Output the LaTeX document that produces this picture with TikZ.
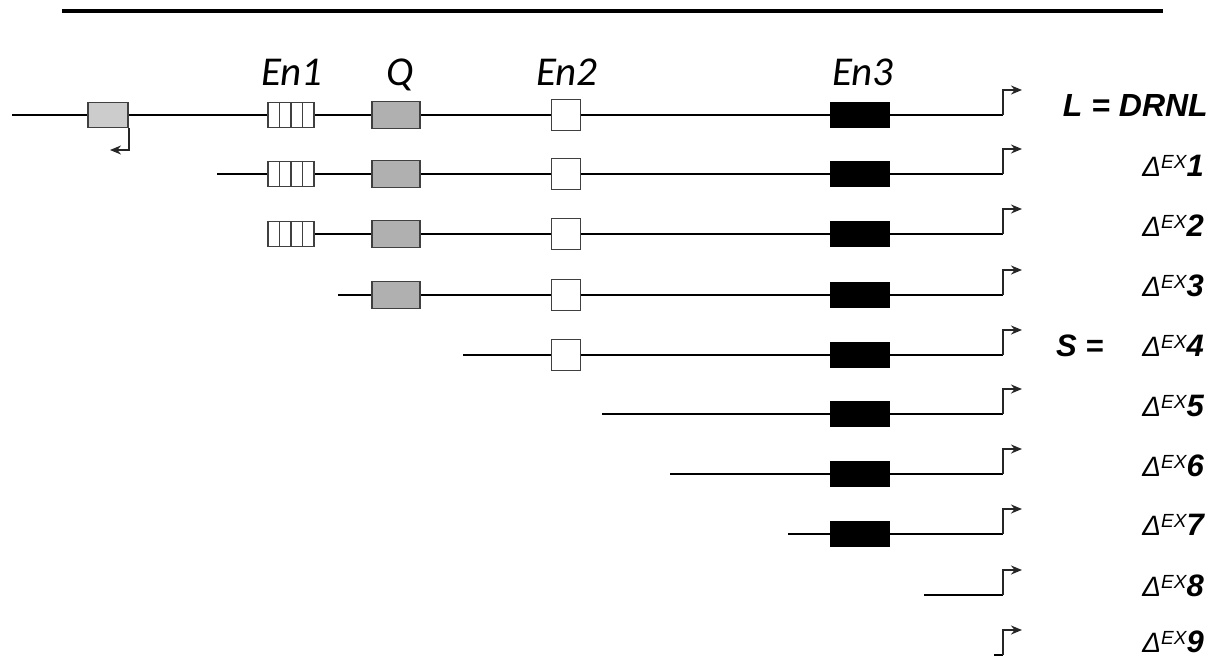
\documentclass[tikz,border=0pt]{standalone}
\usepackage{fontspec}
\setmainfont{Liberation Sans}
\newfontfamily\calib{Carlito}
\usetikzlibrary{calc,arrows.meta}
\newcommand\DeltaEx[1]{{\fontsize{28}{28}\selectfont\mdseries\itshape Δ}\raisebox{8pt}{\fontsize{19}{19}\selectfont\mdseries\itshape EX}{\fontsize{31}{31}\selectfont\bfseries\itshape #1}}
\begin{document}
\begin{tikzpicture}[x=1pt,y=-1pt,
  dna/.style={line width=2.8pt, black},
  boxbase/.style={draw=black!75, line width=1.6pt, inner sep=0pt, anchor=center},
  upbox/.style={boxbase, fill=black!20, minimum width=40pt, minimum height=25pt},
  en1box/.style={boxbase, line width=1.1pt, fill=white, minimum width=46pt, minimum height=25pt,
    path picture={
      \foreach \k in {1,2,3}
        \draw[black!75, line width=1.1pt]
          ($(path picture bounding box.south west)!\k/4!(path picture bounding box.south east)$) --
          ($(path picture bounding box.north west)!\k/4!(path picture bounding box.north east)$);
    }},
  qbox/.style={boxbase, fill=black!31, minimum width=48pt, minimum height=27pt},
  en2box/.style={boxbase, fill=white, minimum width=29pt, minimum height=31pt},
  en3box/.style={boxbase, draw=black, fill=black, minimum width=58pt, minimum height=25pt},
  prom/.style={line width=2pt, black!85, -{Stealth[length=11pt,width=9pt]}},
  toplabel/.style={anchor=base, inner sep=0pt, font=\calib\itshape\fontsize{41}{41}\selectfont},
  rlabel/.style={anchor=base east, inner sep=0pt, font=\bfseries\itshape\fontsize{32}{32}\selectfont},
]
\useasboundingbox (0,0) rectangle (1218,659);

% top rule
\coordinate (rl) at (62,11);
\coordinate (rr) at (1163,11);
\draw[line width=3.5pt] (rl) -- (rr);

% rows: backbone lines and promoters
\foreach \i/\y/\s in {0/115/12, 1/174/217, 2/234/314, 3/295/338, 4/355/463,
                      5/414/602, 6/474/670, 7/534/788, 8/595/924, 9/655/994} {
  \coordinate (s\i) at (\s,\y);
  \coordinate (e\i) at (1003,\y);
  \coordinate (t\i) at (1022,\y-25);
  \draw[dna] (s\i) -- (e\i);
  \draw[prom] (e\i) |- (t\i);
}

% upstream box with reverse promoter
\node[upbox] (u0) at (108,115) {};
\coordinate (r0) at (110,150);
\draw[prom] (u0.south east) |- (r0);

% En1
\foreach \i/\y in {0/115, 1/174, 2/234}
  \node[en1box] (a\i) at (291,\y) {};
% Q
\foreach \i/\y in {0/115, 1/174, 2/234, 3/295}
  \node[qbox] (q\i) at (396,\y) {};
% En2
\foreach \i/\y in {0/115, 1/174, 2/234, 3/295, 4/355}
  \node[en2box] (b\i) at (566,\y) {};
% En3
\foreach \i/\y in {0/115, 1/174, 2/234, 3/295, 4/355, 5/414, 6/474, 7/534}
  \node[en3box] (c\i) at (860,\y) {};

% top labels
\node[toplabel] (lEn1) at (292,85) {En1};
\node[toplabel] (lQ) at (400,85) {Q};
\node[toplabel] (lEn2) at (567,85) {En2};
\node[toplabel] (lEn3) at (863,85) {En3};

% right labels
\node[rlabel] (n0) at (1208,116) {L = DRNL};
\foreach \i/\y in {1/176, 2/236, 3/296, 4/356, 5/416, 6/476, 7/535, 8/596, 9/652}
  \node[rlabel] (n\i) at (1204,\y) {\DeltaEx{\i}};
\node[anchor=base west, inner sep=0pt, font=\bfseries\itshape\fontsize{31}{31}\selectfont] (sl) at (1056,356) {S =};
\end{tikzpicture}
\end{document}
